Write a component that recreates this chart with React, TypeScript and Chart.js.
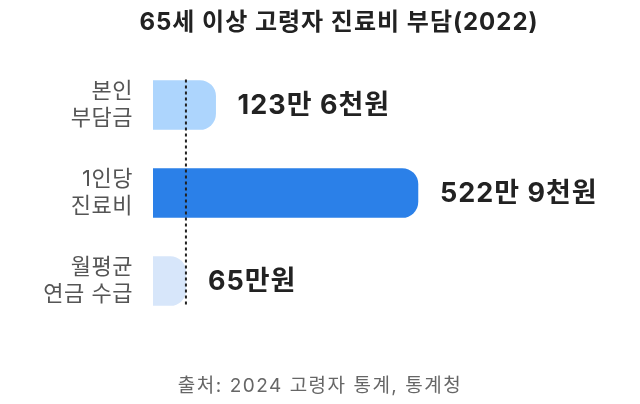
import React, { useEffect, useRef } from "react";
import { Chart, registerables } from "chart.js";

Chart.register(...registerables);

const categories: string[][] = [["본인", "부담금"], ["1인당", "진료비"], ["월평균", "연금 수급"]];
const values: number[] = [123.6, 522.9, 65];
const valueLabels: string[] = ["123만 6천원", "522만 9천원", "65만원"];
const barColors: string[] = ["#add5fd", "#2b80e8", "#d7e6fa"];
const markerValue = 65;
const titleText = "65세 이상 고령자 진료비 부담(2022)";
const sourceText = "출처: 2024 고령자 통계, 통계청";

const FONT = 'Inter, "Noto Sans CJK KR", sans-serif';

const App: React.FC = () => {
    const canvasRef = useRef<HTMLCanvasElement>(null);

    useEffect(() => {
        if (!canvasRef.current) return;
        const ctx = canvasRef.current.getContext("2d");
        if (!ctx) return;

        // tick labels get a little letter spacing (canvas state resets on resize)
        const spacing = {
            id: "spacing",
            beforeUpdate(chart: any) {
                chart.ctx.letterSpacing = "0.5px";
            },
            beforeDraw(chart: any) {
                chart.ctx.letterSpacing = "0.5px";
            },
        };

        // value text, dotted marker line, title and source line
        const overlay = {
            id: "overlay",
            afterDatasetsDraw(chart: any) {
                const c = chart.ctx;
                const meta = chart.getDatasetMeta(0);
                c.save();
                c.letterSpacing = "1px";
                c.font = `bold 27px ${FONT}`;
                c.fillStyle = "#222222";
                c.textBaseline = "middle";
                c.textAlign = "left";
                meta.data.forEach((bar: any, i: number) => {
                    c.fillText(valueLabels[i], bar.x + 22, bar.y + 1);
                });
                const first = meta.data[0];
                const last = meta.data[meta.data.length - 1];
                const x = chart.scales.x.getPixelForValue(markerValue);
                c.strokeStyle = "#222222";
                c.lineWidth = 2;
                c.setLineDash([3, 3]);
                c.beginPath();
                c.moveTo(x, first.y - first.height / 2 - 1);
                c.lineTo(x, last.y + last.height / 2 + 2);
                c.stroke();
                c.restore();
            },
            afterDraw(chart: any) {
                const c = chart.ctx;
                c.save();
                c.textBaseline = "middle";
                c.textAlign = "center";
                c.letterSpacing = "1px";
                c.font = `bold 24px ${FONT}`;
                c.fillStyle = "#222222";
                c.fillText(titleText, 339, 23);
                c.letterSpacing = "1.5px";
                c.font = `19px ${FONT}`;
                c.fillStyle = "#666666";
                c.fillText(sourceText, 320, 386);
                c.restore();
            },
        };

        const chart = new Chart(ctx, {
            type: "bar",
            data: {
                labels: categories,
                datasets: [
                    {
                        data: values,
                        backgroundColor: barColors,
                        borderRadius: { topLeft: 0, bottomLeft: 0, topRight: 16, bottomRight: 16 },
                        borderSkipped: false,
                        barThickness: 49,
                    },
                ],
            },
            options: {
                indexAxis: "y",
                animation: false,
                responsive: false,
                layout: { padding: { left: 0, right: 31, top: 61, bottom: 79 } },
                plugins: {
                    legend: { display: false },
                    tooltip: { enabled: false },
                    title: { display: false },
                },
                scales: {
                    x: {
                        display: false,
                        min: 0,
                        max: 900,
                    },
                    y: {
                        border: { display: false },
                        grid: { display: false, drawTicks: false },
                        ticks: {
                            color: "#555555",
                            padding: 20,
                            font: { family: FONT, size: 22, lineHeight: "27px" },
                        },
                        afterFit: (axis: any) => {
                            axis.width = 153;
                        },
                    },
                },
            },
            plugins: [spacing, overlay],
        });

        return () => {
            chart.destroy();
        };
    }, []);

    return (
        <div style={{ position: "fixed", left: 0, top: 0, width: 640, height: 404, background: "#ffffff" }}>
            <canvas ref={canvasRef} width={640} height={404}></canvas>
        </div>
    );
};

export default App;
